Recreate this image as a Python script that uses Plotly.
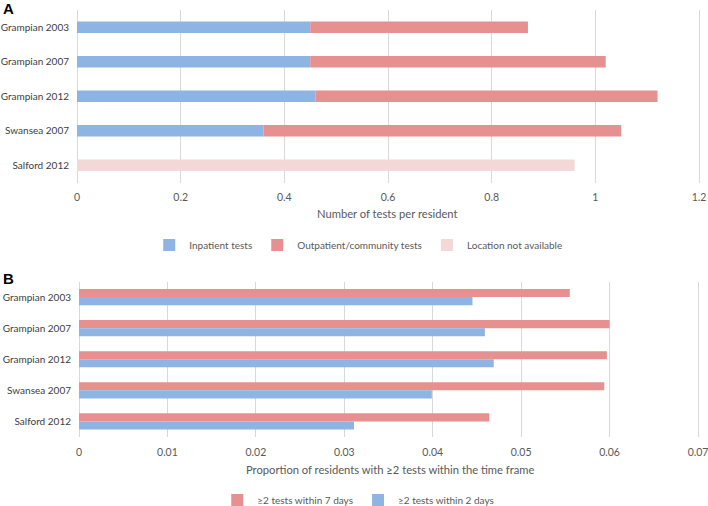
import plotly.graph_objects as go

sites = ["Grampian 2003", "Grampian 2007", "Grampian 2012", "Swansea 2007", "Salford 2012"]

# Panel A: tests per resident
inpatient = [0.45, 0.45, 0.46, 0.36, 0]
outpatient = [0.42, 0.57, 0.66, 0.69, 0]
location_na = [0, 0, 0, 0, 0.96]
ticks_a = [0, 0.2, 0.4, 0.6, 0.8, 1, 1.2]
ticklabels_a = ["0", "0.2", "0.4", "0.6", "0.8", "1", "1.2"]

# Panel B: proportion of residents with >=2 tests
within7 = [0.0555, 0.0600, 0.0597, 0.0594, 0.0464]
within2 = [0.0445, 0.0459, 0.0469, 0.0399, 0.0311]
ticks_b = [0, 0.01, 0.02, 0.03, 0.04, 0.05, 0.06, 0.07]
ticklabels_b = ["0", "0.01", "0.02", "0.03", "0.04", "0.05", "0.06", "0.07"]

BLUE = "#8DB4E2"
RED = "#E69190"
PINK = "#F4D7D7"
FONT = "Lato"
GRAY = "#595959"

fig = go.Figure()

wA = 0.34
fig.add_trace(go.Bar(y=sites, x=inpatient, orientation="h", name="Inpatient tests",
                     marker=dict(color=BLUE, line=dict(width=0)), width=wA, offset=-wA / 2,
                     xaxis="x", yaxis="y", legend="legend"))
fig.add_trace(go.Bar(y=sites, x=outpatient, base=inpatient, orientation="h",
                     name="Outpatient/community tests",
                     marker=dict(color=RED, line=dict(width=0)), width=wA, offset=-wA / 2,
                     xaxis="x", yaxis="y", legend="legend"))
fig.add_trace(go.Bar(y=sites, x=location_na, orientation="h", name="Location not available",
                     marker=dict(color=PINK, line=dict(width=0)), width=wA, offset=-wA / 2,
                     xaxis="x", yaxis="y", legend="legend"))

wB = 0.26
fig.add_trace(go.Bar(y=sites, x=within7, orientation="h", name="≥2 tests within 7 days",
                     marker=dict(color=RED, line=dict(width=0)), width=wB, offset=-wB,
                     xaxis="x2", yaxis="y2", legend="legend2"))
fig.add_trace(go.Bar(y=sites, x=within2, orientation="h", name="≥2 tests within 2 days",
                     marker=dict(color=BLUE, line=dict(width=0)), width=wB, offset=0,
                     xaxis="x2", yaxis="y2", legend="legend2"))

W, H = 708, 506
def px(v): return v / W
def py(v): return 1 - v / H

common_x = dict(showgrid=True, gridcolor="#D9D9D9", gridwidth=1, zeroline=True,
                zerolinecolor="#D9D9D9", zerolinewidth=1, showline=False,
                ticks="outside", ticklen=5, tickcolor="rgba(0,0,0,0)", automargin=False,
                ticklabeloverflow="allow",
                tickfont=dict(family=FONT, size=10.5, color=GRAY), fixedrange=True)
common_y = dict(autorange="reversed", showgrid=False, zeroline=False, showline=False,
                ticks="outside", ticklen=5, tickcolor="rgba(0,0,0,0)", automargin=False,
                ticklabeloverflow="allow",
                tickfont=dict(family=FONT, size=10, color="#404040"))

# slight range padding so the last gridline is kept inside the plot area
padA = 1.2 * 1.003
padB = 0.07 * 1.003
fig.update_layout(
    width=W, height=H,
    margin=dict(l=0, r=0, t=0, b=0, autoexpand=False),
    paper_bgcolor="white", plot_bgcolor="white",
    barmode="overlay",
    showlegend=True,
    xaxis=dict(domain=[px(77), px(77 + 622 * 1.003)], range=[0, padA], tickmode="array",
               tickvals=ticks_a, ticktext=ticklabels_a, anchor="y", **common_x),
    yaxis=dict(domain=[py(182.5), py(10)], anchor="x", **common_y),
    xaxis2=dict(domain=[px(79), px(79 + 619 * 1.003)], range=[0, padB], tickmode="array",
                tickvals=ticks_b, ticktext=ticklabels_b, anchor="y2", **common_x),
    yaxis2=dict(domain=[py(437), py(281.5)], anchor="x2", **common_y),
    legend=dict(orientation="h", x=0.506, xanchor="center", y=py(245), yanchor="middle",
                font=dict(family=FONT, size=10, color=GRAY), itemwidth=30,
                traceorder="normal", bgcolor="rgba(0,0,0,0)"),
    legend2=dict(orientation="h", x=0.506, xanchor="center", y=py(500), yanchor="middle",
                 font=dict(family=FONT, size=10, color=GRAY), itemwidth=30,
                 traceorder="normal", bgcolor="rgba(0,0,0,0)"),
    annotations=[
        dict(text="<b>A</b>", x=px(1), y=py(8), xref="paper", yref="paper",
             xanchor="left", yanchor="middle", showarrow=False,
             font=dict(family="Liberation Sans", size=15, color="black")),
        dict(text="<b>B</b>", x=px(1), y=py(278), xref="paper", yref="paper",
             xanchor="left", yanchor="middle", showarrow=False,
             font=dict(family="Liberation Sans", size=15, color="black")),
        dict(text="Number of tests per resident", x=px(388), y=py(213), xref="paper",
             yref="paper", xanchor="center", yanchor="middle", showarrow=False,
             font=dict(family=FONT, size=11.2, color=GRAY)),
        dict(text="Proportion of residents with ≥2 tests within the time frame", x=px(390),
             y=py(469), xref="paper", yref="paper", xanchor="center", yanchor="middle",
             showarrow=False, font=dict(family=FONT, size=11.2, color=GRAY)),
    ],
)

fig.write_html("out.html", config={"displayModeBar": False},
               post_script="document.body.style.margin='0';document.body.style.overflow='hidden';")
